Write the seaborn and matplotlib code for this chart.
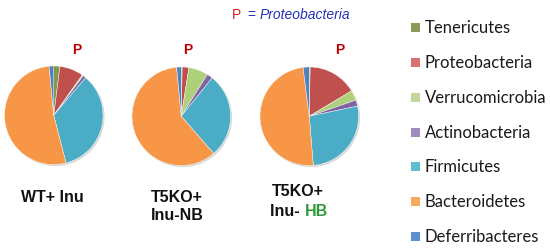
import matplotlib
matplotlib.use("Agg")
import matplotlib.pyplot as plt
import seaborn as sns
from matplotlib.patches import Rectangle

sns.set_theme(style="white")
plt.rcParams['font.family'] = ['Liberation Sans', 'DejaVu Sans']

phyla = ["Tenericutes", "Proteobacteria", "Verrucomicrobia", "Actinobacteria",
         "Firmicutes", "Bacteroidetes", "Deferribacteres"]
colors = ["#7f9a48", "#c0504d", "#aed07a", "#8064a2", "#4bacc6", "#f79646", "#4f81bd"]
legend_colors = ["#8a9a5b", "#d8736f", "#c3d69b", "#a08bbf", "#5fbdd0", "#f9a95f", "#5b8fcf"]

wt_inu = [2.0, 7.8, 0.4, 1.0, 34.8, 52.5, 1.5]
t5ko_nb = [0.3, 2.2, 6.4, 1.9, 27.8, 59.9, 1.5]
t5ko_hb = [0.3, 16.1, 3.3, 2.0, 27.0, 49.3, 2.0]
groups = [wt_inu, t5ko_nb, t5ko_hb]

W, H = 550, 250
fig = plt.figure(figsize=(5.5, 2.5), dpi=100)
fig.patch.set_facecolor("white")

centers = [(54.5, 116), (182, 117), (310, 117)]
r = 52.5
for (cx, cy), vals in zip(centers, groups):
    ax = fig.add_axes([(cx - r) / W, (H - cy - r) / H, 2 * r / W, 2 * r / H])
    # subtle shadow
    ax.pie([1], radius=1.0, colors=["#d8d8d8"], center=(0.03, -0.03),
           wedgeprops=dict(linewidth=0))
    ax.pie(vals, colors=colors, startangle=90, counterclock=False, radius=1.0,
           wedgeprops=dict(linewidth=0.3, edgecolor="white"))
    ax.set_xlim(-1.05, 1.08)
    ax.set_ylim(-1.08, 1.05)
    ax.set_aspect("equal")
    ax.axis("off")

def fx(x):
    return x / W

def fy(y):
    return 1 - y / H

# P markers
for x in [77, 188, 340]:
    fig.text(fx(x), fy(50), "P", color="#c00000", fontsize=10, fontweight="bold",
             ha="center", va="center")

# title
fig.text(fx(232), fy(15), "P", color="#d42020", fontsize=10, ha="left", va="center")
fig.text(fx(247), fy(15), "=", color="#2233bb", fontsize=10, ha="left", va="center")
fig.text(fx(260), fy(15), "Proteobacteria", color="#2233bb", fontsize=10,
         style="italic", ha="left", va="center")

# group labels
fs = 11.5
fig.text(fx(52), fy(197), "WT+ Inu", fontsize=fs, fontweight="bold", ha="center", va="center", color="#111111")
fig.text(fx(177), fy(197), "T5KO+", fontsize=fs, fontweight="bold", ha="center", va="center", color="#111111")
fig.text(fx(177), fy(216), "Inu-NB", fontsize=fs, fontweight="bold", ha="center", va="center", color="#111111")
fig.text(fx(298), fy(192), "T5KO+", fontsize=fs, fontweight="bold", ha="center", va="center", color="#111111")
fig.text(fx(270), fy(211), "Inu- ", fontsize=fs, fontweight="bold", ha="left", va="center", color="#111111")
fig.text(fx(305), fy(211), "HB", fontsize=fs, fontweight="bold", ha="left", va="center", color="#2e9a3a")

# legend
rows = [28, 63, 98, 133, 167, 202, 237]
for name, c, y in zip(phyla, legend_colors, rows):
    fig.patches.append(Rectangle((fx(411), fy(y + 4)), 9 / W, 9 / H, transform=fig.transFigure,
                                 facecolor=c, edgecolor="none"))
    fig.text(fx(425), fy(y), name, fontsize=12, ha="left", va="center",
             color="#1a1a1a", family=["Lato", "DejaVu Sans"])

fig.savefig("out.png", dpi=100, facecolor="white")
